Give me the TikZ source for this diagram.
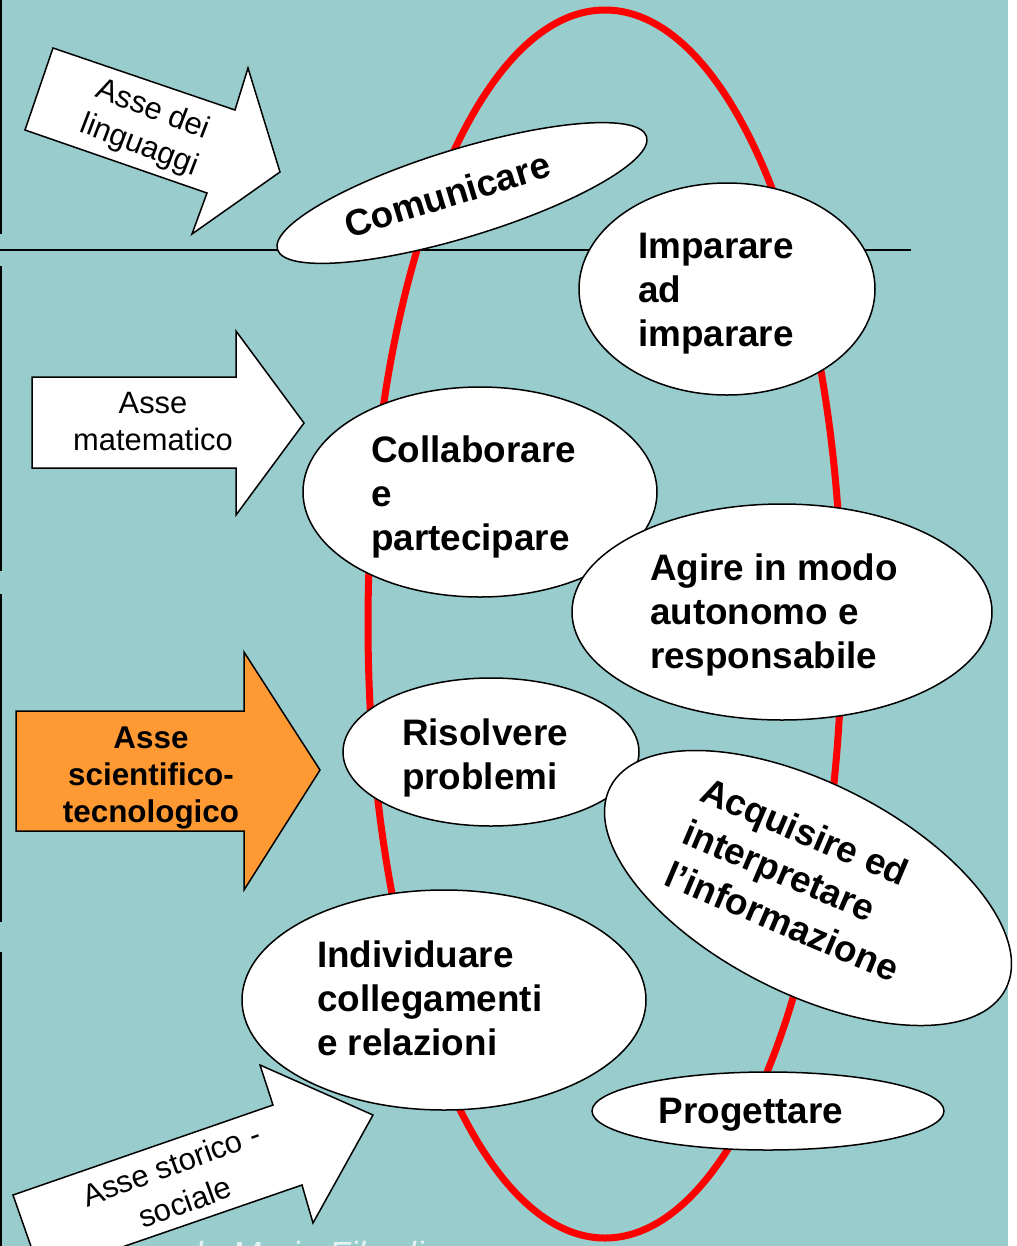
\documentclass[tikz,border=0pt]{standalone}
\usepackage{fontspec}
\setmainfont{Liberation Sans}
\definecolor{bgteal}{RGB}{153,204,204}
\definecolor{axorange}{RGB}{255,153,51}
\newcommand\regf{\fontsize{31}{38}\selectfont}
\newcommand\boldf{\bfseries\fontsize{37}{44.5}\selectfont}
\tikzset{
  bubble/.style={draw=black, line width=1.5bp, fill=white},
  axarrow/.style={draw=black, line width=1.5bp, fill=white, line join=miter},
  lbl/.style={inner sep=0pt, outer sep=0pt},
}
\begin{document}
\begin{tikzpicture}[x=1bp,y=-1bp]
\useasboundingbox (0,0) rectangle (1017,1246);
\clip (0,0) rectangle (1017,1246);
\fill[white] (0,0) rectangle (1017,1246);
\fill[bgteal] (0,0) rectangle (1008,1246);
% left frame marks
\foreach \a/\b in {0/234,266/571,594/922,952/1246}
  \draw[black, line width=1.6bp] (0.8,\a) -- (0.8,\b);
% horizontal separator
\coordinate (hl) at (0,250);
\coordinate (hr) at (911,250);
\draw[black, line width=2bp] (hl) -- (hr);
% red ring
\draw[red, line width=7bp] (605,624) ellipse [x radius=237, y radius=614];

% arrows
\draw[axarrow] (53,48) -- (235,110) -- (248,68) -- (280,172) -- (192,234) -- (207,193) -- (25,130) -- cycle;
\node[lbl, rotate=-21, anchor=base, font=\regf] (ling) at (150,118)
  {\parbox[t]{220bp}{\centering Asse dei\\linguaggi}};

\draw[axarrow] (32,377) -- (236,377) -- (236,331) -- (304,423) -- (236,515) -- (236,468) -- (32,468) -- cycle;
\node[lbl, anchor=base, font=\regf] (mate) at (153,413)
  {\parbox[t]{220bp}{\centering Asse\\matematico}};

\draw[axarrow, fill=axorange] (16,711) -- (244,711) -- (244,652) -- (320,770) -- (244,890) -- (244,831) -- (16,831) -- cycle;
\node[lbl, anchor=base, font=\bfseries\fontsize{31.5}{37.5}\selectfont] (scie) at (151,748)
  {\parbox[t]{240bp}{\centering Asse\\scientifico-\\tecnologico}};

\draw[axarrow] (13,1195) -- (273,1105) -- (260,1065) -- (373,1115) -- (313,1223) -- (302,1185) -- (41,1275) -- cycle;
\node[lbl, rotate=20, anchor=base, font=\fontsize{31}{40}\selectfont] (stor) at (175,1175)
  {\parbox[t]{240bp}{\centering Asse storico -\\sociale}};

% bubbles
\draw[bubble, shift={(462,193)}, rotate=17] (0,0) ellipse [x radius=193, y radius=44];
\node[lbl, rotate=17, anchor=base, font=\boldf] (comu) at (451,207) {Comunicare};

\draw[bubble] (727,289) ellipse [x radius=148, y radius=106];
\node[lbl, anchor=base west, font=\boldf] (impa) at (638,258)
  {\parbox[t]{240bp}{Imparare\\ad\\imparare}};

\draw[bubble] (480,492) ellipse [x radius=177, y radius=105];
\node[lbl, anchor=base west, font=\boldf] (coll) at (371,462)
  {\parbox[t]{260bp}{Collaborare\\e\\partecipare}};

\draw[bubble] (782,612) ellipse [x radius=210, y radius=108];
\node[lbl, anchor=base west, font=\boldf] (agir) at (650,580)
  {\parbox[t]{300bp}{Agire in modo\\autonomo e\\responsabile}};

\draw[bubble] (491,752) ellipse [x radius=148, y radius=74];
\node[lbl, anchor=base west, font=\boldf] (riso) at (402,745)
  {\parbox[t]{240bp}{Risolvere\\problemi}};

\draw[bubble, shift={(808,888)}, rotate=-27] (0,0) ellipse [x radius=222, y radius=105];
\node[lbl, rotate=-23, anchor=base west, font=\bfseries\fontsize{37}{46}\selectfont] (acqu) at (698,800)
  {\parbox[t]{300bp}{Acquisire ed\\interpretare\\l’informazione}};

\draw[bubble] (444,1000) ellipse [x radius=202, y radius=110];
\node[lbl, anchor=base west, font=\boldf] (indi) at (317,967)
  {\parbox[t]{300bp}{Individuare\\collegamenti\\e relazioni}};

\draw[bubble] (768,1111) ellipse [x radius=176, y radius=39];
\node[lbl, anchor=base, font=\boldf] (prog) at (751,1123) {Progettare};

% faint footer, cut by the page edge
\node[lbl, anchor=base west, text=white, text opacity=0.75, font=\itshape\fontsize{35}{40}\selectfont] (foot) at (195,1266) {la Maria Filardi};
\end{tikzpicture}
\end{document}
